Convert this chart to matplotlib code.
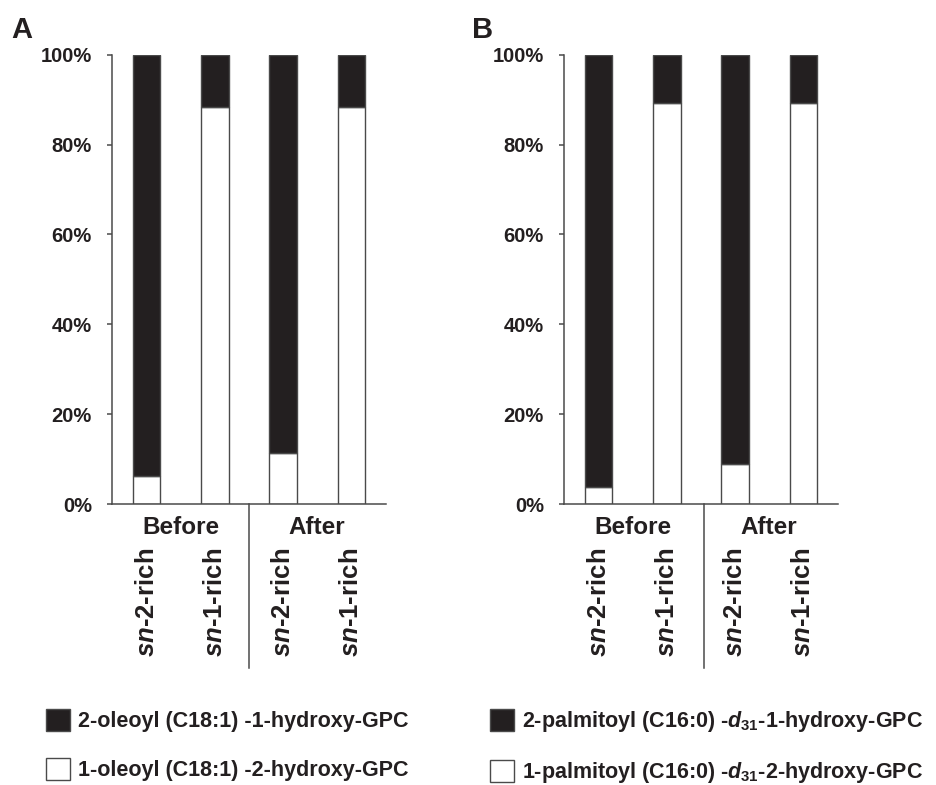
import matplotlib
matplotlib.use('Agg')
import matplotlib.pyplot as plt
import matplotlib.transforms as mtransforms
from matplotlib.patches import Patch
import numpy as np

plt.rcParams['font.family'] = 'Liberation Sans'
plt.rcParams['font.weight'] = 'bold'
plt.rcParams['mathtext.fontset'] = 'custom'
plt.rcParams['mathtext.rm'] = 'Liberation Sans:bold'
plt.rcParams['mathtext.it'] = 'Liberation Sans:italic:bold'
plt.rcParams['mathtext.bf'] = 'Liberation Sans:bold'
plt.rcParams['text.color'] = '#231f20'
plt.rcParams['xtick.color'] = '#231f20'
plt.rcParams['ytick.color'] = '#231f20'

# data (percent of each species)
groups = ['Before', 'After']
samples = [r'$\mathit{sn}$-2-rich', r'$\mathit{sn}$-1-rich',
           r'$\mathit{sn}$-2-rich', r'$\mathit{sn}$-1-rich']
ytick_vals = [0, 20, 40, 60, 80, 100]
ytick_labels = ['0%', '20%', '40%', '60%', '80%', '100%']

a_white = [6.2, 88.4, 11.3, 88.4]
a_black = [93.8, 11.6, 88.7, 11.6]
a_legend = ['2-oleoyl (C18:1) -1-hydroxy-GPC',
            '1-oleoyl (C18:1) -2-hydroxy-GPC']

b_white = [3.7, 89.2, 8.8, 89.2]
b_black = [96.3, 10.8, 91.2, 10.8]
b_legend = [r'2-palmitoyl (C16:0) -$\mathit{d}_{\mathrm{31}}$-1-hydroxy-GPC',
            r'1-palmitoyl (C16:0) -$\mathit{d}_{\mathrm{31}}$-2-hydroxy-GPC']

blk = '#231f20'
edge = '#4a4a4a'
W, H = 937.0, 785.0


def draw_panel(ax, white, black, sep_x):
    x = np.arange(len(white))
    ax.bar(x, white, 0.4, color='white', edgecolor=edge, linewidth=1.0)
    ax.bar(x, black, 0.4, bottom=white, color=blk, edgecolor=edge, linewidth=1.0)
    ax.set_xlim(-0.51, 3.51)
    ax.set_ylim(0, 100)
    ax.spines['top'].set_visible(False)
    ax.spines['right'].set_visible(False)
    ax.spines['left'].set_color(edge)
    ax.spines['bottom'].set_color(edge)
    ax.spines['left'].set_linewidth(1.1)
    ax.spines['bottom'].set_linewidth(1.1)
    ax.set_yticks(ytick_vals, ytick_labels, fontsize=14.5)
    ax.tick_params(axis='y', length=3.6, width=1.1, color=edge, pad=10.8)
    ax.set_xticks(x, samples, rotation=90, fontsize=18.5)
    ax.tick_params(axis='x', length=0, pad=31.7)
    trans = mtransforms.blended_transform_factory(ax.transData, ax.transAxes)
    for i, g in enumerate(groups):
        ax.text(2 * i + 0.5, -0.053, g, transform=trans, ha='center',
                va='center', fontsize=17.5)
    ax.plot([sep_x, sep_x], [0, -0.365], transform=trans, clip_on=False,
            color=edge, lw=1.1)


fig = plt.figure(figsize=(9.37, 7.85), dpi=100)
ax_a = fig.add_axes([112 / W, (H - 504) / H, 274 / W, 449.3 / H])
ax_b = fig.add_axes([564 / W, (H - 504) / H, 274 / W, 449.3 / H])

draw_panel(ax_a, a_white, a_black, 1.5)
draw_panel(ax_b, b_white, b_black, 1.54)

fig.text(11 / W, (H - 38) / H, 'A', fontsize=21, va='baseline')
fig.text(472 / W, (H - 38) / H, 'B', fontsize=21, va='baseline')

for labels, xpos in [(a_legend, 46), (b_legend, 490)]:
    handles = [Patch(facecolor=blk, edgecolor=edge, linewidth=1.0),
               Patch(facecolor='white', edgecolor=edge, linewidth=1.0)]
    fig.legend(handles, labels, loc='upper left',
               bbox_to_anchor=(xpos / W, (H - 709) / H), frameon=False,
               fontsize=15.5, borderpad=0, borderaxespad=0,
               handlelength=1.1, handleheight=1.2, handletextpad=0.4,
               labelspacing=1.2)

fig.savefig('out.png', dpi=100)
